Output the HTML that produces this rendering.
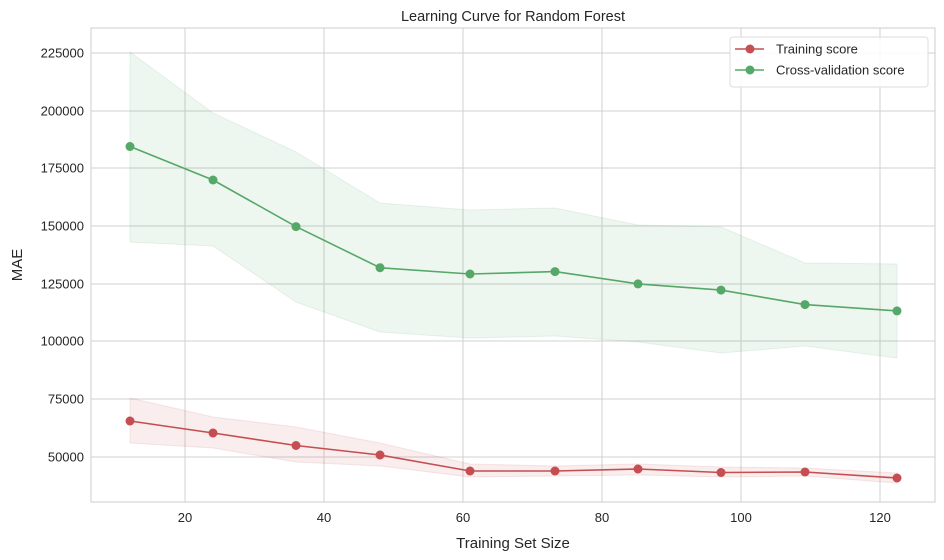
<!DOCTYPE html>
<html><head><style>body{margin:0;background:#fff}svg{display:block}text{font-family:"Liberation Sans",sans-serif;fill:#262626}</style></head><body>
<svg width="944" height="560" viewBox="0 0 944 560">
<rect x="91" y="28" width="844" height="474" fill="#fff" stroke="#ccc" stroke-width="1"/>
<g stroke="#d0d0d0" stroke-width="1">
<line x1="185" y1="28" x2="185" y2="502"/><line x1="324" y1="28" x2="324" y2="502"/><line x1="463" y1="28" x2="463" y2="502"/><line x1="602" y1="28" x2="602" y2="502"/><line x1="741" y1="28" x2="741" y2="502"/><line x1="880" y1="28" x2="880" y2="502"/>
<line x1="91" y1="53" x2="935" y2="53"/><line x1="91" y1="111" x2="935" y2="111"/><line x1="91" y1="168" x2="935" y2="168"/><line x1="91" y1="226" x2="935" y2="226"/><line x1="91" y1="284" x2="935" y2="284"/><line x1="91" y1="341" x2="935" y2="341"/><line x1="91" y1="399" x2="935" y2="399"/><line x1="91" y1="457" x2="935" y2="457"/>
</g>
<polygon fill="#55a868" fill-opacity="0.1" stroke="#55a868" stroke-opacity="0.12" points="130,52 213,113 296,152 380,203 470,210 555,208 638,225 721,227 805,263 897,264 897,358 805,346 721,353 638,342 555,336 470,338 380,332 296,302 213,246 130,242"/>
<polygon fill="#c44e52" fill-opacity="0.1" stroke="#c44e52" stroke-opacity="0.12" points="130,398 213,417 296,427 380,443 470,464 555,466 638,464 721,467 805,468 897,473 897,483 805,476 721,477 638,475 555,476 470,477 380,466 296,462 213,448 130,443"/>
<polyline fill="none" stroke="#55a868" stroke-width="1.6" points="130,146.5 213,180 296,226.6 380,267.7 470,274 555,271.6 638,283.9 721,290.1 805,304.6 897,310.9"/>
<polyline fill="none" stroke="#c44e52" stroke-width="1.6" points="130,421 213,433 296,445.5 380,455 470,471 555,471 638,469 721,472.5 805,472 897,478"/>
<g fill="#55a868"><circle cx="130" cy="146.5" r="4.5"/><circle cx="213" cy="180" r="4.5"/><circle cx="296" cy="226.6" r="4.5"/><circle cx="380" cy="267.7" r="4.5"/><circle cx="470" cy="274" r="4.5"/><circle cx="555" cy="271.6" r="4.5"/><circle cx="638" cy="283.9" r="4.5"/><circle cx="721" cy="290.1" r="4.5"/><circle cx="805" cy="304.6" r="4.5"/><circle cx="897" cy="310.9" r="4.5"/></g>
<g fill="#c44e52"><circle cx="130" cy="421" r="4.5"/><circle cx="213" cy="433" r="4.5"/><circle cx="296" cy="445.5" r="4.5"/><circle cx="380" cy="455" r="4.5"/><circle cx="470" cy="471" r="4.5"/><circle cx="555" cy="471" r="4.5"/><circle cx="638" cy="469" r="4.5"/><circle cx="721" cy="472.5" r="4.5"/><circle cx="805" cy="472" r="4.5"/><circle cx="897" cy="478" r="4.5"/></g>
<g font-size="13" text-anchor="end">
<text x="84" y="57.5">225000</text><text x="84" y="115.5">200000</text><text x="84" y="172.5">175000</text><text x="84" y="230.5">150000</text><text x="84" y="288.5">125000</text><text x="84" y="345.5">100000</text><text x="84" y="403.5">75000</text><text x="84" y="461.5">50000</text>
</g>
<g font-size="13" text-anchor="middle">
<text x="185" y="522">20</text><text x="324" y="522">40</text><text x="463" y="522">60</text><text x="602" y="522">80</text><text x="741" y="522">100</text><text x="880" y="522">120</text>
</g>
<text x="513" y="548" font-size="15" text-anchor="middle">Training Set Size</text>
<text x="22" y="265" font-size="15" text-anchor="middle" transform="rotate(-90 22 265)">MAE</text>
<text x="513" y="21" font-size="14.5" text-anchor="middle">Learning Curve for Random Forest</text>
<rect x="730" y="37" width="198" height="50" rx="3" fill="#fff" fill-opacity="0.85" stroke="#ddd"/>
<line x1="735" y1="49" x2="764" y2="49" stroke="#c44e52" stroke-width="1.6"/><circle cx="750" cy="49" r="4.5" fill="#c44e52"/>
<line x1="735" y1="70" x2="764" y2="70" stroke="#55a868" stroke-width="1.6"/><circle cx="750" cy="70" r="4.5" fill="#55a868"/>
<text x="776" y="53.5" font-size="13">Training score</text>
<text x="776" y="74.5" font-size="13">Cross-validation score</text>
</svg>
</body></html>
